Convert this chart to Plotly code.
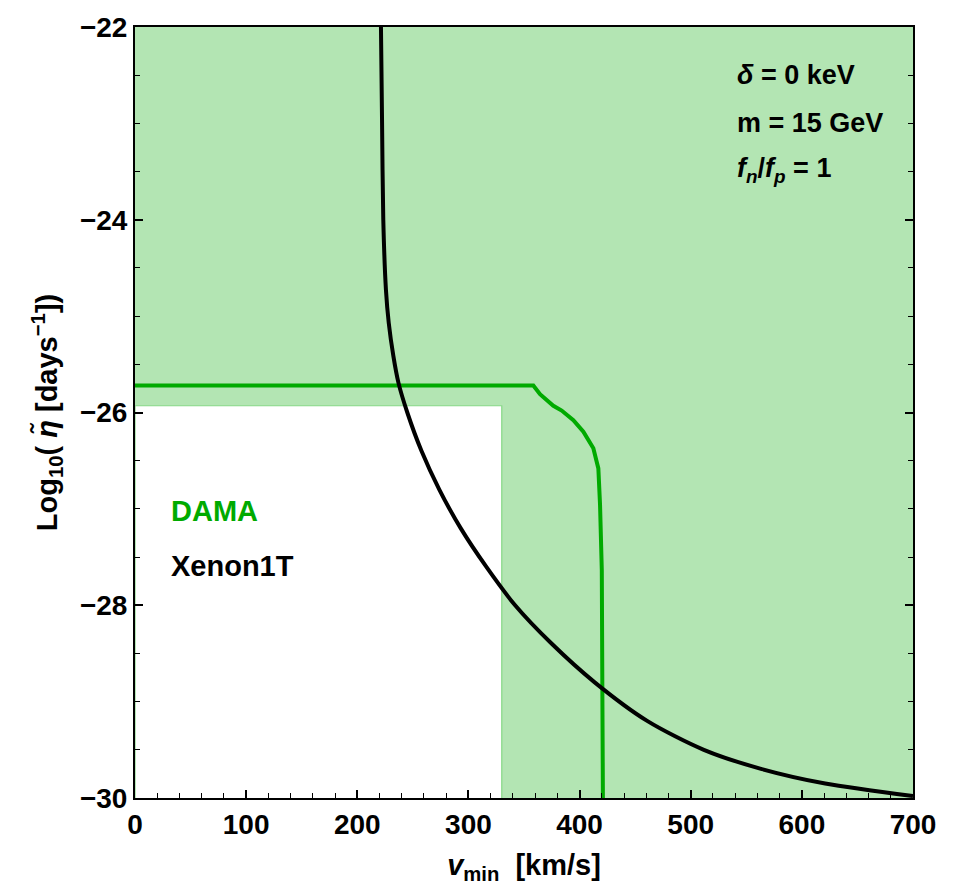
import plotly.graph_objects as go

# Xenon1T limit curve (v_min [km/s], log10 eta)
xenon_v = [221.3, 222.3, 223.4, 225.8, 228.3, 232.4, 237.0, 245.0, 257.8, 273.8, 293.0,
           316.0, 342.0, 375.0, 413.6, 460.8, 511.8, 564.0, 621.0, 700.0]
xenon_eta = [-22.0, -23.0, -24.0, -24.73, -25.07, -25.41, -25.69, -26.0, -26.4, -26.8, -27.2,
             -27.6, -28.0, -28.4, -28.8, -29.2, -29.5, -29.7, -29.85, -29.98]

# DAMA curve
dama_v = [0.0, 358.4, 364.4, 376.4, 383.9, 394.4, 403.4, 412.4, 415.4, 416.9, 418.4, 420.0, 420.5, 421.0]
dama_eta = [-25.72, -25.72, -25.81, -25.93, -25.98, -26.08, -26.20, -26.37, -26.51, -26.58, -26.95, -27.64, -28.9, -30.0]

# White (non-shaded) box
box_v = [0.0, 0.0, 330.0, 330.0]
box_eta = [-30.0, -25.93, -25.93, -30.0]

x_range = [0, 700]
y_range = [-30, -22]

FILL = "#b3e5b3"
GREEN = "#00aa00"
FONT = "Liberation Sans, Arial, sans-serif"

fig = go.Figure()
fig.add_trace(go.Scatter(x=box_v, y=box_eta, mode="lines", fill="toself",
                         fillcolor="white", line=dict(color="#86d886", width=1.2),
                         hoverinfo="skip", showlegend=False))
fig.add_trace(go.Scatter(x=dama_v, y=dama_eta, mode="lines",
                         line=dict(color=GREEN, width=4), showlegend=False))
fig.add_trace(go.Scatter(x=xenon_v, y=xenon_eta, mode="lines", line_shape="spline",
                         line=dict(color="black", width=4, smoothing=0.8), showlegend=False))

axis_common = dict(showgrid=False, zeroline=False, showline=True, linecolor="black", linewidth=2,
                   ticks="inside", tickcolor="black", tickwidth=1.5, ticklen=8)

fig.update_layout(
    width=955, height=888,
    margin=dict(l=135, r=42, t=21, b=88),
    plot_bgcolor=FILL, paper_bgcolor="white",
    font=dict(family=FONT, size=28, color="black", weight="bold"),
    xaxis=dict(range=x_range, dtick=100, tick0=0, mirror=True,
               minor=dict(dtick=20, ticks="inside", ticklen=5, tickwidth=1.2, tickcolor="black"),
               tickfont=dict(family=FONT, size=28, weight="bold"),
               title=dict(text="<i>v</i><sub>min</sub>\u00a0\u00a0[km/s]", standoff=16,
                          font=dict(family=FONT, size=29, weight="bold")),
               **axis_common),
    xaxis2=dict(range=x_range, overlaying="x", side="top", anchor="y", dtick=50, tick0=0,
                showticklabels=False, showgrid=False, zeroline=False, ticks="inside",
                ticklen=5, tickwidth=1.2, tickcolor="black", showline=False),
    yaxis=dict(range=y_range, dtick=2, tick0=-30, mirror="allticks",
               minor=dict(dtick=0.5, ticks="inside", ticklen=5, tickwidth=1.2, tickcolor="black"),
               tickfont=dict(family=FONT, size=28, weight="bold"),
               title=dict(text="Log<sub>10</sub>( <i>η\u0303</i> [days<sup>−1</sup>])", standoff=14,
                          font=dict(family=FONT, size=29, weight="bold")),
               **axis_common),
)

params = ["<i>δ</i> = 0 keV", "m = 15 GeV",
          "<i>f</i><sub><i>n</i></sub>/<i>f</i><sub><i>p</i></sub> = 1"]
params_y = [-22.50, -23.00, -23.48]
for txt, yy in zip(params, params_y):
    fig.add_annotation(x=540, y=yy, xref="x", yref="y", text=txt, showarrow=False,
                       xanchor="left", yanchor="middle",
                       font=dict(family=FONT, size=27, weight="bold", color="black"))

labels = ["DAMA", "Xenon1T"]
label_colors = [GREEN, "black"]
labels_y = [-27.02, -27.59]
for txt, col, yy in zip(labels, label_colors, labels_y):
    fig.add_annotation(x=31, y=yy, xref="x", yref="y", text=txt, showarrow=False,
                       xanchor="left", yanchor="middle",
                       font=dict(family=FONT, size=29, weight="bold", color=col))

fig.write_html("out.html")
